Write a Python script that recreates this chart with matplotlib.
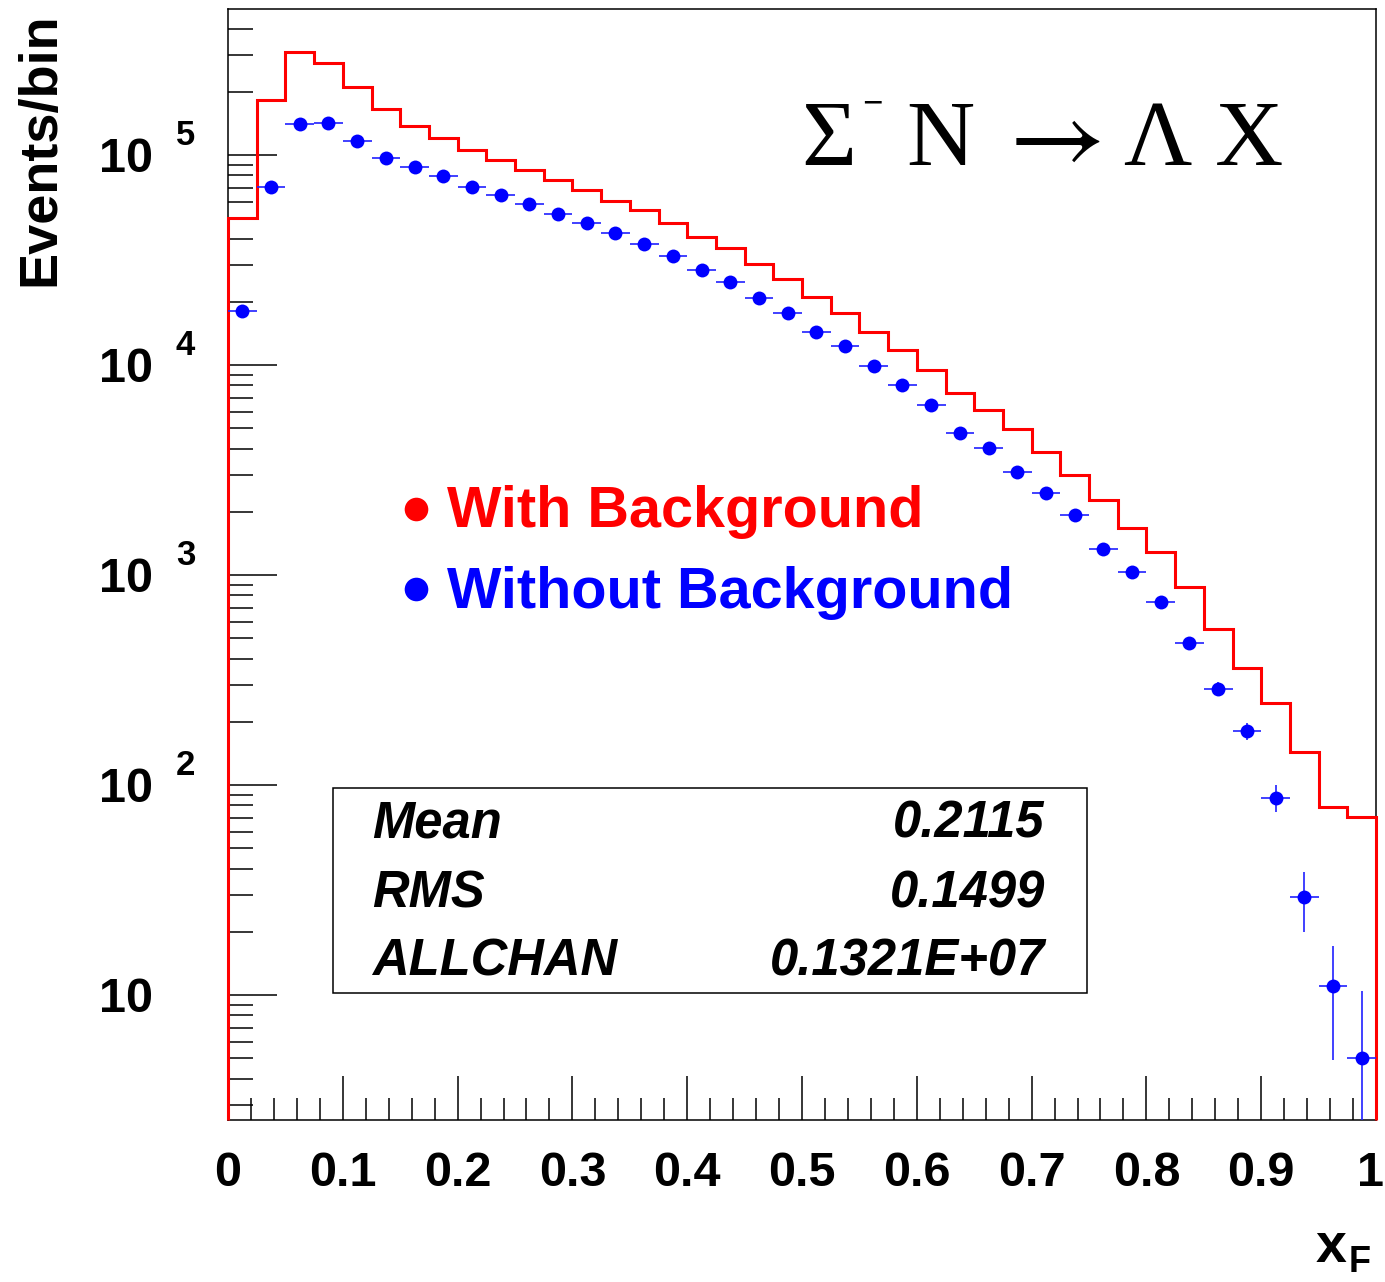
import numpy as np
import matplotlib
matplotlib.use("Agg")
import matplotlib.pyplot as plt
from matplotlib.ticker import FixedLocator, MultipleLocator, LogLocator, NullFormatter
from matplotlib.transforms import blended_transform_factory, offset_copy
from matplotlib.patches import Rectangle
from matplotlib.lines import Line2D

# ---------------- data ----------------
n_bins = 40
x_min, x_max = 0.0, 1.0

red_with_background = [50000, 183000, 310000, 274000, 210000, 166000, 138000, 121000,
                       106000, 94400, 84900, 76100, 67900, 60400, 54700, 47600, 40800,
                       36000, 30200, 25700, 21100, 17600, 14400, 11800, 9460, 7330, 6110,
                       4950, 3840, 3010, 2270, 1680, 1290, 875, 553, 362, 245, 143, 78.8, 70.6]

blue_without_background = [18100, 70700, 140000, 142600, 117000, 97100, 87700, 79200,
                           70700, 64800, 58700, 52400, 47300, 42400, 37600, 33000, 28300,
                           24800, 20900, 17600, 14400, 12300, 9890, 8000, 6420, 4760, 4040,
                           3100, 2470, 1930, 1330, 1030, 747, 473, 286, 181, 87, 29.3, 11.0, 5.0]

blue_errors = [175, 345, 490, 490, 445, 405, 385, 365, 345, 330, 315, 300, 285, 270, 255,
               240, 220, 205, 190, 175, 155, 145, 130, 115, 105, 90, 85, 72, 65, 57, 48,
               42, 36, 29, 22, 17, 12.7, 9.3, 6.1, 5.4]

xtick_values = [0, 0.1, 0.2, 0.3, 0.4, 0.5, 0.6, 0.7, 0.8, 0.9, 1.0]
xtick_labels = ["0", "0.1", "0.2", "0.3", "0.4", "0.5", "0.6", "0.7", "0.8", "0.9", "1"]
ytick_exponents = [1, 2, 3, 4, 5]

stats_names = ["Mean", "RMS", "ALLCHAN"]
stats_values = ["0.2115", "0.1499", "0.1321E+07"]

legend_labels = ["With Background", "Without Background"]
legend_colors = ["#ff0000", "#0000ff"]

Y_MIN, Y_MAX = 2.54, 4.96e5

# ---------------- figure ----------------
W, H, DPI = 1385, 1282, 100
fig = plt.figure(figsize=(W / DPI, H / DPI), dpi=DPI)
fig.patch.set_facecolor("white")

def fx(px):
    return px / W

def fy(py):
    return 1 - py / H

AX_L, AX_R, AX_T, AX_B = 228, 1376, 9, 1120
ax = fig.add_axes([fx(AX_L), fy(AX_B), (AX_R - AX_L) / W, (AX_B - AX_T) / H])
ax.set_xlim(x_min, x_max)
ax.set_yscale("log")
ax.set_ylim(Y_MIN, Y_MAX)

edges = np.linspace(x_min, x_max, n_bins + 1)
centers = 0.5 * (edges[:-1] + edges[1:])
half_width = 0.5 * (edges[1] - edges[0])

ax.stairs(red_with_background, edges, baseline=Y_MIN, color="#ff0000",
          lw=2.2, zorder=4, clip_on=False)

ax.errorbar(centers, blue_without_background, xerr=half_width, yerr=blue_errors,
            fmt="o", color="#0000ff", ecolor="#2020ff", ms=10, mew=0,
            elinewidth=1.2, capsize=0, zorder=5)

for sp in ax.spines.values():
    sp.set_linewidth(1.1)
    sp.set_color("black")

ax.xaxis.set_major_locator(FixedLocator(xtick_values))
ax.xaxis.set_minor_locator(MultipleLocator(0.02))
ax.yaxis.set_major_locator(FixedLocator([10.0 ** e for e in ytick_exponents]))
ax.yaxis.set_minor_locator(LogLocator(base=10, subs=range(2, 10), numticks=30))
ax.yaxis.set_minor_formatter(NullFormatter())

ax.tick_params(axis="both", which="both", direction="in", top=False, right=False,
               color="black", width=1.1)
ax.tick_params(axis="x", which="major", length=31.7, labelbottom=False)
ax.tick_params(axis="x", which="minor", length=15.8)
ax.tick_params(axis="y", which="major", length=35.3, labelleft=False)
ax.tick_params(axis="y", which="minor", length=18)

# x tick labels
trans_x = blended_transform_factory(ax.transData, ax.transAxes)
for v, lab in zip(xtick_values, xtick_labels):
    dx = -5 if v >= 1.0 else 0
    t = offset_copy(trans_x, fig=fig, x=dx, y=-66, units="dots")
    ax.text(v, 0, lab, transform=t, ha="center", va="baseline", fontsize=35,
            fontweight="bold", family="Liberation Sans", clip_on=False)

# y tick labels "10 ^n"
trans_y = blended_transform_factory(ax.transAxes, ax.transData)
for e in ytick_exponents:
    t_base = offset_copy(trans_y, fig=fig, x=0, y=-16.5, units="dots")
    ax.text((153 - AX_L) / (AX_R - AX_L), 10.0 ** e, "10", transform=t_base,
            ha="right", va="baseline", fontsize=35, fontweight="bold",
            family="Liberation Sans", clip_on=False)
    if e > 1:
        t_exp = offset_copy(trans_y, fig=fig, x=0, y=10, units="dots")
        ax.text((176 - AX_L) / (AX_R - AX_L), 10.0 ** e, str(e), transform=t_exp,
                ha="left", va="baseline", fontsize=25, fontweight="bold",
                family="Liberation Sans", clip_on=False)

# axis titles
fig.text(fx(40), fy(12), "Events/bin", rotation=90, ha="center", va="top",
         fontsize=39, fontweight="bold", family="Liberation Sans")
fig.text(fx(1316), fy(1262), "x", ha="left", va="baseline", fontsize=40,
         fontweight="bold", family="Liberation Sans")
fig.text(fx(1349), fy(1272), "F", ha="left", va="baseline", fontsize=26,
         fontweight="bold", family="Liberation Sans")

# reaction title
serif = "Liberation Serif"
fig.text(fx(801), fy(165), "\u03a3", ha="left", va="baseline", fontsize=68, family=serif)
fig.text(fx(862), fy(113), "\u2212", ha="left", va="baseline", fontsize=26,
         fontweight="bold", family=serif)
fig.text(fx(906), fy(165), "N", ha="left", va="baseline", fontsize=68, family=serif)
fig.text(fx(993), fy(167), r"$\rightarrow$", ha="left", va="baseline", fontsize=76,
         math_fontfamily="stix")
fig.text(fx(1123), fy(165), "\u039b", ha="left", va="baseline", fontsize=68, family=serif)
fig.text(fx(1215), fy(165), "X", ha="left", va="baseline", fontsize=68, family=serif)

# legend
legend_rows_y = [508.5, 588.5]
legend_base_y = [527, 608]
for lab, col, yc, yb in zip(legend_labels, legend_colors, legend_rows_y, legend_base_y):
    fig.add_artist(Line2D([fx(415.5)], [fy(yc)], marker="o", ms=17, mew=0,
                          color=col, transform=fig.transFigure))
    fig.text(fx(447), fy(yb), lab, ha="left", va="baseline", fontsize=41.5,
             fontweight="bold", color=col, family="Liberation Sans")

# stats box
fig.add_artist(Rectangle((fx(333), fy(993)), (1087 - 333) / W, (993 - 788) / H,
                         transform=fig.transFigure, fill=False, ec="black", lw=1.1))
stats_base_y = [838, 907, 976]
for name, val, yb in zip(stats_names, stats_values, stats_base_y):
    fig.text(fx(372), fy(yb), name, ha="left", va="baseline", fontsize=36.5,
             fontweight="bold", fontstyle="italic", family="Liberation Sans")
    fig.text(fx(1045), fy(yb), val, ha="right", va="baseline", fontsize=36.5,
             fontweight="bold", fontstyle="italic", family="Liberation Sans")

fig.savefig("out.png", dpi=DPI, facecolor="white")
